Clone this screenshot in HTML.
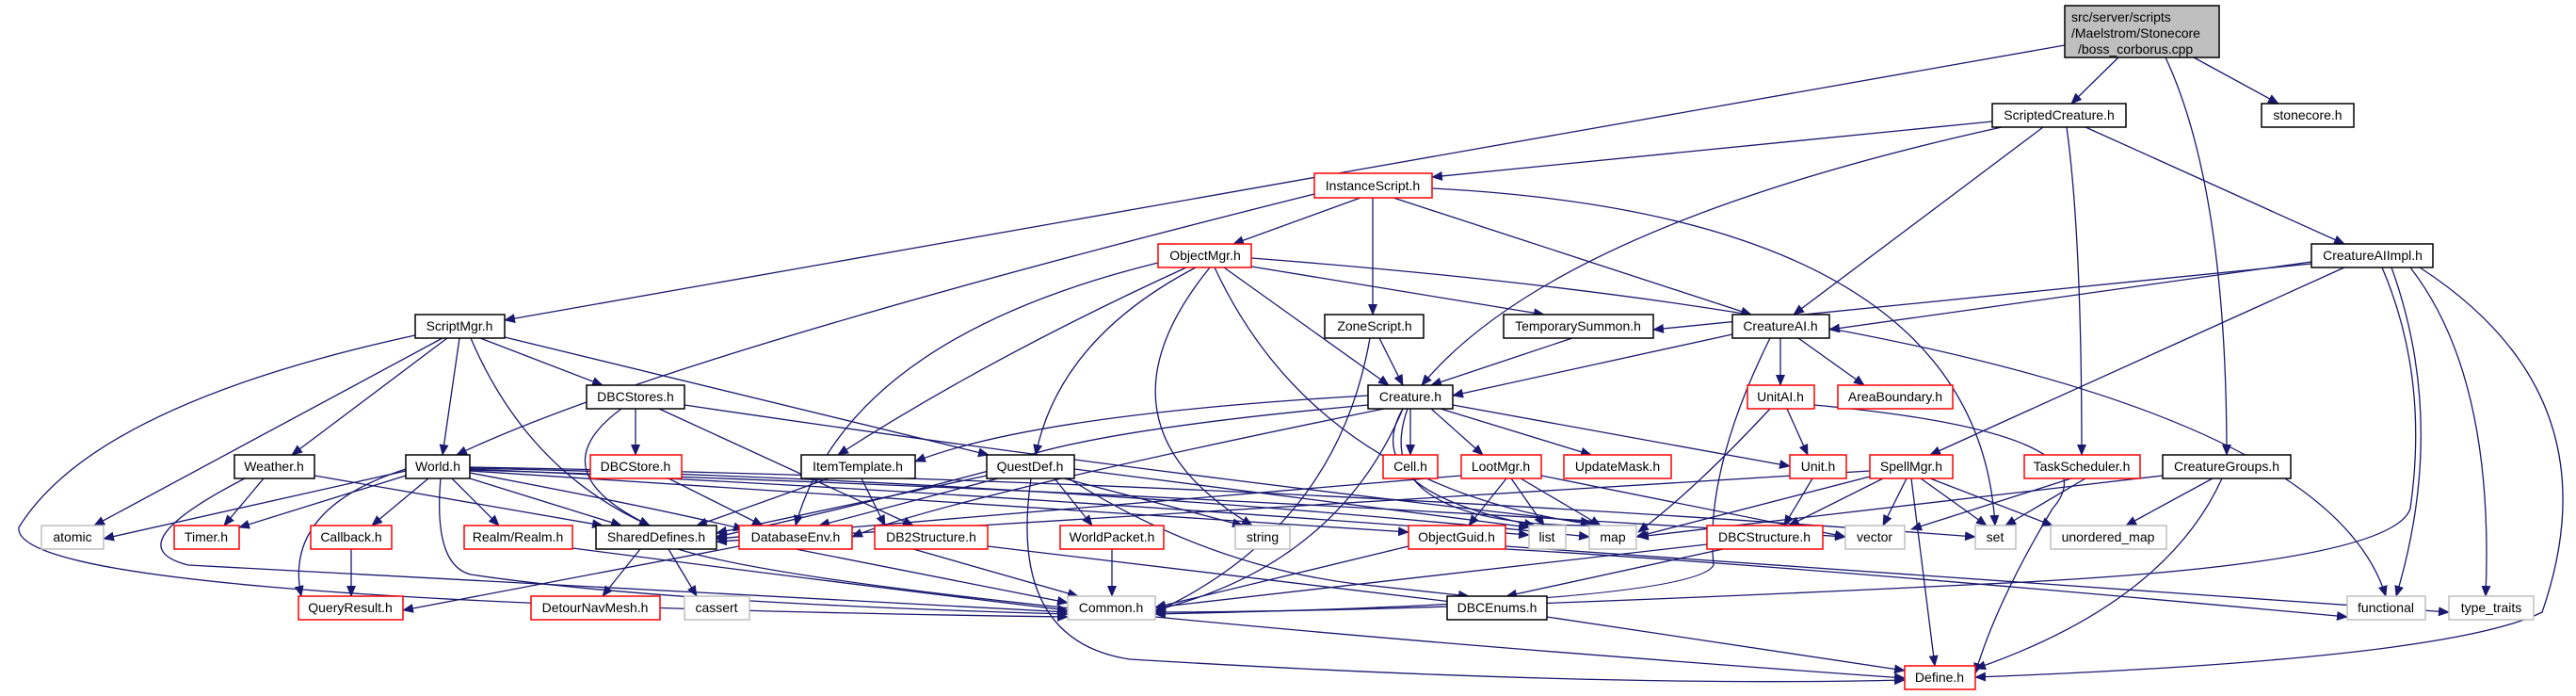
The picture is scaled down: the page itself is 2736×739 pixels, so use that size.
<!DOCTYPE html>
<html><head><meta charset="utf-8"><style>
html,body{margin:0;padding:0;background:#fff}
svg{display:block}
text{font-family:"Liberation Sans",sans-serif;font-size:14px;fill:#000}
.n{fill:#fff;stroke:#000;stroke-width:1.5}
.r{fill:#fff;stroke:#ff0000;stroke-width:1.5}
.g{fill:#fff;stroke:#bfbfbf;stroke-width:1.5}
.e{fill:none;stroke:#191970;stroke-width:1.3}
</style></head><body>
<svg width="2736" height="739" viewBox="0 0 2736 739" xmlns="http://www.w3.org/2000/svg">
<defs><marker id="a" markerWidth="12" markerHeight="10" refX="11" refY="5" orient="auto" markerUnits="userSpaceOnUse"><path d="M0,0 L12,5 L0,10 z" fill="#191970"/></marker></defs>
<g class="e" marker-end="url(#a)">
<!-- source -->
<path d="M2250,61 L2200,110"/>
<path d="M2330,61 L2420,110"/>
<path d="M2193,48 L536,340"/>
<path d="M2300,61 Q2365,200 2365,483"/>
<!-- ScriptedCreature -->
<path d="M2116,129 L1521,188"/>
<path d="M2126,135 Q1650,240 1510,409"/>
<path d="M2170,135 L1905,334"/>
<path d="M2195,135 Q2211,250 2211,483"/>
<path d="M2215,135 L2490,259"/>
<!-- InstanceScript -->
<path d="M1445,210 L1310,259"/>
<path d="M1458,210 L1458,334"/>
<path d="M1480,210 L1860,334"/>
<path d="M1521,200 Q2100,230 2119,558"/>
<path d="M1396,206 Q700,380 485,483"/>
<!-- ObjectMgr -->
<path d="M1329,283 L1640,334"/>
<path d="M1300,284 L1475,409"/>
<path d="M1260,284 Q1050,380 890,483"/>
<path d="M1270,284 Q1125,360 1100,483"/>
<path d="M1230,279 Q900,360 845,558"/>
<path d="M1285,284 Q1150,450 1330,558"/>
<path d="M1290,284 Q1400,520 1700,558"/>
<path d="M1329,274 Q2450,360 2534,633"/>
<!-- CreatureAIImpl -->
<path d="M2455,278 L1943,350"/>
<path d="M2455,280 L1756,350"/>
<path d="M2490,284 L2050,483"/>
<path d="M2530,284 Q2580,400 2560,540 Q2540,600 2110,620 Q1500,650 1227,650"/>
<path d="M2540,284 Q2600,450 2545,633"/>
<path d="M2560,284 Q2650,400 2640,633"/>
<path d="M2570,284 Q2780,420 2700,650 Q2600,700 2098,719"/>
<!-- ScriptMgr -->
<path d="M441,356 Q100,430 20,560 Q10,640 1134,655"/>
<path d="M470,359 L100,558"/>
<path d="M475,359 L310,483"/>
<path d="M488,359 L470,483"/>
<path d="M500,359 Q560,500 690,558"/>
<path d="M510,359 L640,409"/>
<path d="M536,358 L1050,483"/>
<!-- ZoneScript, TempSummon -->
<path d="M1465,359 L1490,409"/>
<path d="M1455,359 Q1420,560 1227,650"/>
<path d="M1670,359 L1520,409"/>
<!-- CreatureAI -->
<path d="M1840,355 L1543,420"/>
<path d="M1891,359 L1891,409"/>
<path d="M1910,359 L1980,409"/>
<path d="M1880,359 Q1810,500 1820,600 Q1800,640 1227,652"/>
<!-- DBCStores -->
<path d="M660,434 Q570,500 690,558"/>
<path d="M675,434 L675,483"/>
<path d="M700,434 L970,558"/>
<path d="M727,430 Q1200,500 1690,555"/>
<!-- Creature -->
<path d="M1453,420 Q1100,440 972,490"/>
<path d="M1453,430 Q1120,460 1050,500 Q900,540 761,570"/>
<path d="M1498,434 L1498,483"/>
<path d="M1520,434 L1575,483"/>
<path d="M1530,434 L1690,483"/>
<path d="M1543,430 L1901,495"/>
<path d="M1490,434 Q1440,520 1630,558"/>
<path d="M1495,434 Q1450,560 1700,558"/>
<path d="M1490,434 Q1420,600 1227,648"/>
<path d="M1470,434 Q1000,530 905,570"/>
<!-- Weather -->
<path d="M280,508 L238,558"/>
<path d="M334,505 L640,558"/>
<path d="M260,508 Q120,580 200,600 Q600,620 1134,650"/>
<!-- World -->
<path d="M431,500 L110,572"/>
<path d="M431,505 L254,560"/>
<path d="M455,508 L395,558"/>
<path d="M480,508 L530,558"/>
<path d="M499,508 L660,558"/>
<path d="M431,498 Q300,540 320,633"/>
<path d="M468,508 Q460,600 500,610 Q700,640 1134,652"/>
<path d="M499,500 L1496,565"/>
<path d="M499,498 Q1000,520 1624,568"/>
<path d="M499,497 Q1100,510 1688,570"/>
<path d="M499,496 Q1300,510 2098,570"/>
<path d="M499,499 Q1200,520 1960,570"/>
<path d="M499,502 Q700,540 790,562"/>
<!-- DBCStore -->
<path d="M710,508 L810,558"/>
<!-- ItemTemplate, QuestDef -->
<path d="M880,508 L740,558"/>
<path d="M915,508 L940,558"/>
<path d="M1048,505 L761,566"/>
<path d="M1060,508 L870,558"/>
<path d="M1120,508 L1160,558"/>
<path d="M1130,508 L1320,558"/>
<path d="M1141,498 L1624,560"/>
<path d="M1135,508 Q1280,600 1440,620 L1560,633"/>
<path d="M1095,508 Q1070,680 1200,700 Q1700,730 2023,722"/>
<!-- Loot -->
<path d="M1600,508 L1560,558"/>
<path d="M1605,508 L1640,558"/>
<path d="M1615,508 L1700,558"/>
<path d="M1552,505 Q900,560 761,572"/>
<path d="M1637,505 L1960,570"/>
<!-- UnitAI, Unit -->
<path d="M1880,434 Q1800,520 1740,565"/>
<path d="M1927,430 Q2250,460 2180,540 Q2120,640 2098,715"/>
<path d="M1898,434 L1920,483"/>
<path d="M1925,508 L1895,558"/>
<!-- SpellMgr -->
<path d="M1986,500 L761,575"/>
<path d="M1990,505 L1738,570"/>
<path d="M2000,508 L1900,558"/>
<path d="M2025,508 L2000,558"/>
<path d="M2040,508 L2110,558"/>
<path d="M2050,508 L2180,558"/>
<path d="M2030,508 L2055,707"/>
<!-- TaskScheduler -->
<path d="M2200,508 L2030,562"/>
<path d="M2215,508 L2130,558"/>
<!-- CreatureGroups -->
<path d="M2350,508 L2258,558"/>
<path d="M2297,505 L1740,570"/>
<path d="M2360,508 Q2300,640 2098,710"/>
<!-- bottom-row sources -->
<path d="M373,583 L373,633"/>
<path d="M608,582 Q900,620 1134,648"/>
<path d="M680,583 L640,633"/>
<path d="M710,583 L740,633"/>
<path d="M720,583 Q900,640 2023,720"/>
<path d="M785,580 L428,648"/>
<path d="M845,583 L1134,640"/>
<path d="M970,583 L1145,633"/>
<path d="M1049,580 L1550,640"/>
<path d="M1181,583 L1181,633"/>
<path d="M1496,580 L1227,645"/>
<path d="M1599,580 L2601,650"/>
<path d="M1599,583 Q1900,600 2493,655"/>
<path d="M1830,583 L1600,633"/>
<path d="M1813,578 L1227,645"/>
<path d="M1643,655 L2023,712"/>
</g>
<!-- nodes -->
<rect x="2193" y="6" width="164" height="55" fill="#bfbfbf" stroke="#000" stroke-width="1.5"/>
<text x="2200" y="23">src/server/scripts</text>
<text x="2200" y="40">/Maelstrom/Stonecore</text>
<text x="2207" y="57">/boss_corborus.cpp</text>
<g>
<rect class="n" x="2116" y="110" width="142" height="25"/><text x="2187" y="127" text-anchor="middle">ScriptedCreature.h</text>
<rect class="n" x="2402" y="110" width="98" height="25"/><text x="2451" y="127" text-anchor="middle">stonecore.h</text>
<rect class="r" x="1396" y="184" width="125" height="26"/><text x="1458" y="202" text-anchor="middle">InstanceScript.h</text>
<rect class="r" x="1230" y="259" width="99" height="25"/><text x="1280" y="276" text-anchor="middle">ObjectMgr.h</text>
<rect class="n" x="2455" y="259" width="129" height="25"/><text x="2520" y="276" text-anchor="middle">CreatureAIImpl.h</text>
<rect class="n" x="441" y="334" width="95" height="25"/><text x="488" y="351" text-anchor="middle">ScriptMgr.h</text>
<rect class="n" x="1407" y="334" width="105" height="25"/><text x="1460" y="351" text-anchor="middle">ZoneScript.h</text>
<rect class="n" x="1597" y="334" width="159" height="25"/><text x="1676" y="351" text-anchor="middle">TemporarySummon.h</text>
<rect class="n" x="1840" y="334" width="103" height="25"/><text x="1891" y="351" text-anchor="middle">CreatureAI.h</text>
<rect class="n" x="623" y="409" width="104" height="25"/><text x="675" y="426" text-anchor="middle">DBCStores.h</text>
<rect class="n" x="1453" y="409" width="90" height="25"/><text x="1498" y="426" text-anchor="middle">Creature.h</text>
<rect class="r" x="1856" y="409" width="71" height="25"/><text x="1891" y="426" text-anchor="middle">UnitAI.h</text>
<rect class="r" x="1952" y="409" width="122" height="25"/><text x="2013" y="426" text-anchor="middle">AreaBoundary.h</text>
<rect class="n" x="249" y="483" width="85" height="25"/><text x="291" y="500" text-anchor="middle">Weather.h</text>
<rect class="n" x="431" y="483" width="68" height="25"/><text x="465" y="500" text-anchor="middle">World.h</text>
<rect class="r" x="627" y="483" width="97" height="25"/><text x="675" y="500" text-anchor="middle">DBCStore.h</text>
<rect class="n" x="851" y="483" width="121" height="25"/><text x="911" y="500" text-anchor="middle">ItemTemplate.h</text>
<rect class="n" x="1048" y="483" width="93" height="25"/><text x="1094" y="500" text-anchor="middle">QuestDef.h</text>
<rect class="r" x="1469" y="483" width="58" height="25"/><text x="1498" y="500" text-anchor="middle">Cell.h</text>
<rect class="r" x="1552" y="483" width="85" height="25"/><text x="1594" y="500" text-anchor="middle">LootMgr.h</text>
<rect class="r" x="1661" y="483" width="114" height="25"/><text x="1718" y="500" text-anchor="middle">UpdateMask.h</text>
<rect class="r" x="1901" y="483" width="60" height="25"/><text x="1931" y="500" text-anchor="middle">Unit.h</text>
<rect class="r" x="1986" y="483" width="88" height="25"/><text x="2030" y="500" text-anchor="middle">SpellMgr.h</text>
<rect class="r" x="2150" y="483" width="123" height="25"/><text x="2211" y="500" text-anchor="middle">TaskScheduler.h</text>
<rect class="n" x="2297" y="483" width="136" height="25"/><text x="2365" y="500" text-anchor="middle">CreatureGroups.h</text>
<rect class="g" x="44" y="558" width="66" height="25"/><text x="77" y="575" text-anchor="middle">atomic</text>
<rect class="r" x="185" y="558" width="69" height="25"/><text x="219" y="575" text-anchor="middle">Timer.h</text>
<rect class="r" x="330" y="558" width="86" height="25"/><text x="373" y="575" text-anchor="middle">Callback.h</text>
<rect class="r" x="493" y="558" width="115" height="25"/><text x="550" y="575" text-anchor="middle">Realm/Realm.h</text>
<rect class="n" x="633" y="558" width="128" height="25"/><text x="697" y="575" text-anchor="middle">SharedDefines.h</text>
<rect class="r" x="785" y="558" width="120" height="25"/><text x="845" y="575" text-anchor="middle">DatabaseEnv.h</text>
<rect class="r" x="929" y="558" width="120" height="25"/><text x="989" y="575" text-anchor="middle">DB2Structure.h</text>
<rect class="r" x="1126" y="558" width="110" height="25"/><text x="1181" y="575" text-anchor="middle">WorldPacket.h</text>
<rect class="g" x="1312" y="558" width="58" height="25"/><text x="1341" y="575" text-anchor="middle">string</text>
<rect class="r" x="1496" y="558" width="103" height="25"/><text x="1547" y="575" text-anchor="middle">ObjectGuid.h</text>
<rect class="g" x="1624" y="558" width="39" height="25"/><text x="1643" y="575" text-anchor="middle">list</text>
<rect class="g" x="1688" y="558" width="50" height="25"/><text x="1713" y="575" text-anchor="middle">map</text>
<rect class="r" x="1813" y="558" width="123" height="25"/><text x="1874" y="575" text-anchor="middle">DBCStructure.h</text>
<rect class="g" x="1960" y="558" width="63" height="25"/><text x="1991" y="575" text-anchor="middle">vector</text>
<rect class="g" x="2098" y="558" width="43" height="25"/><text x="2119" y="575" text-anchor="middle">set</text>
<rect class="g" x="2178" y="558" width="123" height="25"/><text x="2239" y="575" text-anchor="middle">unordered_map</text>
<rect class="r" x="317" y="633" width="111" height="25"/><text x="372" y="650" text-anchor="middle">QueryResult.h</text>
<rect class="r" x="564" y="633" width="137" height="25"/><text x="632" y="650" text-anchor="middle">DetourNavMesh.h</text>
<rect class="g" x="727" y="633" width="69" height="25"/><text x="761" y="650" text-anchor="middle">cassert</text>
<rect class="g" x="1134" y="633" width="93" height="25"/><text x="1180" y="650" text-anchor="middle">Common.h</text>
<rect class="n" x="1537" y="633" width="106" height="25"/><text x="1590" y="650" text-anchor="middle">DBCEnums.h</text>
<rect class="g" x="2493" y="633" width="83" height="25"/><text x="2534" y="650" text-anchor="middle">functional</text>
<rect class="g" x="2601" y="633" width="90" height="25"/><text x="2646" y="650" text-anchor="middle">type_traits</text>
<rect class="r" x="2023" y="707" width="75" height="25"/><text x="2060" y="724" text-anchor="middle">Define.h</text>
</g>
</svg>
</body></html>
